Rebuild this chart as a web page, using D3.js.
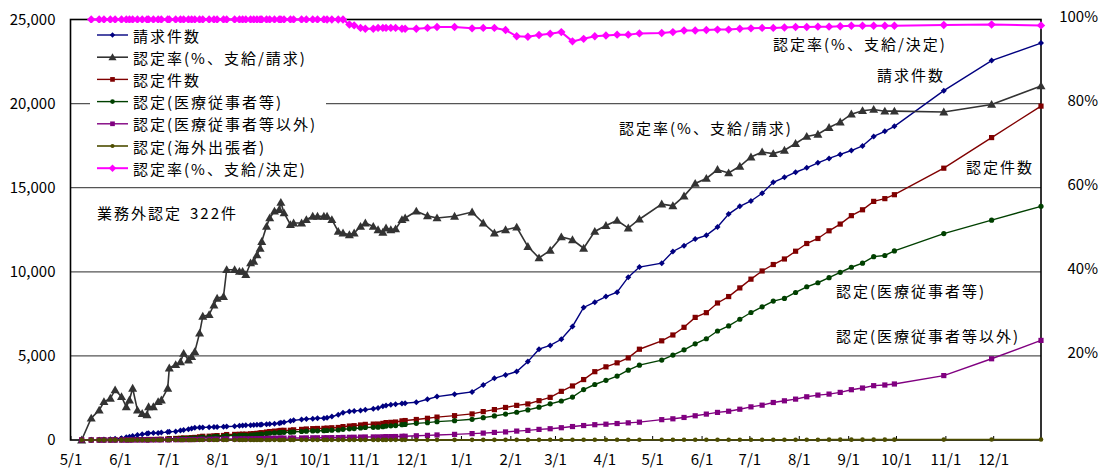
<!DOCTYPE html>
<html>
<head>
<meta charset="utf-8">
<script src="https://cdn.jsdelivr.net/npm/d3@7"></script>
<style>
  body { margin: 0; background: #fff; }
  text { font-family: "Noto Sans CJK JP", sans-serif; fill: #000; }
</style>
</head>
<body>
<div id="chart"></div>
<script>
// dates of each report
const dates = [
  "2020-05-08","2020-05-14","2020-05-19","2020-05-22","2020-05-26","2020-05-29",
  "2020-06-02","2020-06-05","2020-06-07","2020-06-09","2020-06-12","2020-06-15","2020-06-18","2020-06-19","2020-06-22","2020-06-25","2020-06-27",
  "2020-07-01","2020-07-02","2020-07-06","2020-07-09","2020-07-11","2020-07-14","2020-07-16","2020-07-18","2020-07-21","2020-07-23","2020-07-27","2020-07-30",
  "2020-08-01","2020-08-05","2020-08-07","2020-08-12","2020-08-15","2020-08-17","2020-08-19","2020-08-22","2020-08-24","2020-08-26","2020-08-28","2020-08-29",
  "2020-09-01","2020-09-03","2020-09-06","2020-09-09","2020-09-10","2020-09-12","2020-09-16","2020-09-18","2020-09-23","2020-09-26","2020-09-30",
  "2020-10-03","2020-10-07","2020-10-09","2020-10-12","2020-10-16","2020-10-19","2020-10-23","2020-10-26","2020-10-30",
  "2020-11-02","2020-11-07","2020-11-10","2020-11-13","2020-11-15","2020-11-18","2020-11-21","2020-11-25","2020-11-27",
  "2020-12-04","2020-12-11","2020-12-17","2020-12-28",
  "2021-01-08","2021-01-15","2021-01-22","2021-01-29",
  "2021-02-05","2021-02-12","2021-02-19","2021-02-26",
  "2021-03-05","2021-03-12","2021-03-19","2021-03-26",
  "2021-04-02","2021-04-09","2021-04-16","2021-04-23",
  "2021-05-07","2021-05-14","2021-05-21","2021-05-28",
  "2021-06-04","2021-06-11","2021-06-18","2021-06-25",
  "2021-07-02","2021-07-09","2021-07-16","2021-07-23","2021-07-30",
  "2021-08-06","2021-08-13","2021-08-20","2021-08-27",
  "2021-09-03","2021-09-10","2021-09-17","2021-09-24","2021-09-30",
  "2021-10-31","2021-11-30","2021-12-31"
];

// 請求件数
const seikyu = [
  0,10,20,30,50,70,
  110,160,200,240,290,340,380,400,410,420,440,
  470,490,510,560,600,640,690,730,740,750,760,770,
  780,790,800,820,850,860,870,880,890,900,910,920,
  930,950,970,1000,1020,1050,1130,1170,1220,1250,1270,
  1290,1300,1330,1390,1500,1620,1700,1730,1760,
  1800,1860,1900,2000,2050,2100,2130,2170,2190,
  2240,2420,2580,2720,
  2860,3270,3670,3870,
  4070,4660,5400,5620,
  5990,6750,7880,8190,
  8530,8790,9680,10280,
  10510,11210,11550,11950,
  12170,12670,13430,13890,
  14210,14670,15320,15620,15920,
  16180,16480,16740,16980,
  17210,17480,18050,18350,18650,
  20770,22560,23600
];

// 認定率(%、支給/請求)
const rateSeikyu = [
  0,5.2,7.1,9.1,9.9,11.9,
  10.3,7.9,9.5,12.3,7.1,6.3,6.0,7.9,7.9,9.1,9.5,
  12.3,17.1,17.9,18.6,20.6,19.0,19.8,21.0,25.4,29.4,29.8,32.1,
  33.7,34.1,40.5,40.5,40.1,40.1,39.3,42.1,42.5,44.0,45.6,47.2,
  50.8,52.8,54.4,54.8,56.5,54.0,51.2,51.6,51.6,52.4,53.2,
  53.2,53.2,53.2,52.4,49.6,49.2,48.8,49.2,50.8,
  51.6,50.8,50.0,49.4,50.4,50.0,50.2,52.4,52.8,
  54.4,53.3,52.8,53.2,
  54.2,51.6,49.2,50.0,
  50.6,46.0,43.3,45.1,
  48.3,47.6,45.6,49.6,
  51.0,52.2,50.4,52.5,
  56.1,55.7,58.0,61.0,
  62.2,64.3,63.5,65.1,
  67.3,68.5,68.1,68.9,70.5,
  72.2,72.7,74.3,75.6,
  77.5,78.3,78.6,78.2,78.2,
  78.0,79.8,84.2
];

// 認定件数
const nintei = [
  0,0,1,3,5,8,
  11,13,19,25,25,25,25,32,32,38,42,
  58,84,91,104,122,124,137,153,188,221,226,247,
  263,269,324,332,341,345,346,370,378,396,415,434,
  472,502,528,548,570,575,579,604,630,655,676,
  686,692,708,728,744,797,830,852,893,
  929,945,950,988,1033,1050,1069,1137,1157,
  1219,1290,1362,1447,
  1550,1687,1806,1935,
  2059,2144,2338,2535,
  2893,3213,3593,4062,
  4350,4588,4880,5397,
  5896,6244,6700,7290,
  7570,8146,8528,9042,
  9563,10049,10433,10762,11224,
  11682,11981,12438,12837,
  13338,13687,14187,14350,14584,
  16160,17980,19850
];

// 認定(医療従事者等)
const iryo = [
  0,0,1,2,4,6,
  9,10,15,20,20,20,20,25,25,30,33,
  46,67,72,83,97,99,109,122,150,176,180,197,
  210,215,259,265,272,276,277,295,302,316,332,347,
  377,401,422,438,455,459,463,483,504,524,540,
  548,553,566,582,595,637,664,681,714,
  743,756,760,790,826,840,855,909,925,
  990,1030,1090,1150,
  1230,1330,1430,1540,
  1650,1790,1950,2150,
  2320,2550,3000,3300,
  3550,3800,4150,4450,
  4750,5050,5360,5720,
  6020,6480,6780,7180,
  7580,7920,8260,8420,8770,
  9110,9350,9650,9970,
  10270,10510,10900,10970,11240,
  12270,13070,13890
];

// 認定(医療従事者等以外)
const iryoIgai = [
  0,0,0,1,1,2,
  2,3,4,5,5,5,5,7,7,8,9,
  11,16,18,20,24,24,27,30,37,43,44,48,
  51,52,63,65,67,67,67,72,73,77,80,84,
  92,98,103,107,112,113,114,116,121,126,131,
  133,134,137,141,143,154,160,165,173,
  180,183,184,192,201,202,206,220,224,
  250,275,300,335,
  380,410,450,480,
  530,570,630,670,
  730,800,860,910,
  940,980,1020,1060,
  1210,1260,1340,1440,
  1540,1640,1710,1830,
  1970,2070,2230,2330,2430,
  2570,2670,2730,2830,
  2990,3090,3230,3270,3330,
  3830,4830,5920
];

// 認定(海外出張者)
const kaigai = [
  0,0,0,0,0,0,
  0,0,0,0,0,0,0,0,0,0,0,
  1,1,1,1,1,1,1,1,1,2,2,2,
  2,2,2,2,2,2,2,3,3,3,3,3,
  3,3,3,3,3,5,5,5,5,5,5,
  5,5,5,5,6,6,6,6,6,
  6,6,6,6,6,8,8,8,8,
  8,8,8,10,
  10,10,10,10,
  10,10,10,12,
  12,12,12,12,
  12,12,12,15,
  15,15,15,15,
  15,15,18,18,
  18,18,18,18,18,
  18,18,20,20,
  20,20,20,20,20,
  25,28,32
];

// 認定率(%、支給/決定)
const rateKettei = [
  null,100,100,100,100,100,
  100,100,100,100,100,100,100,100,100,100,100,
  100,100,100,100,100,100,100,100,100,100,100,100,
  100,100,100,100,100,100,100,100,100,100,100,100,
  100,100,100,100,100,100,100,100,100,100,100,
  100,100,100,100,100,100,98.8,98.6,98.0,
  97.8,97.8,98.0,98.0,98.0,98.0,98.0,97.8,97.8,
  97.8,98.0,98.2,98.2,
  97.9,98.0,98.0,97.5,
  96.0,95.9,96.3,96.6,
  97.0,94.8,95.4,96.0,
  96.2,96.4,96.4,96.7,
  96.8,97.0,97.4,97.4,
  97.5,97.6,97.6,97.8,
  97.9,98.0,98.0,98.1,98.2,
  98.2,98.3,98.3,98.4,
  98.5,98.5,98.5,98.5,98.5,
  98.7,98.8,98.6
];

const leftTicks = [0, 5000, 10000, 15000, 20000, 25000];
const rightTicks = [20, 40, 60, 80, 100];

const width = 1100, height = 471;
const plot = { left: 70.5, right: 1041, top: 19.5, bottom: 440 };
const parseDate = d3.timeParse("%Y-%m-%d");
const dateObjs = dates.map(parseDate);

const svg = d3.select("#chart").append("svg")
  .attr("width", width)
  .attr("height", height);

const x = d3.scaleTime()
  .domain([parseDate("2020-05-01"), parseDate("2021-12-31")])
  .range([plot.left, plot.right]);
const y = d3.scaleLinear().domain([0, 25000]).range([plot.bottom, plot.top]);
const yPct = d3.scaleLinear().domain([0, 100]).range([plot.bottom, plot.top]);

// gridlines
svg.append("g").selectAll("line")
  .data(leftTicks.filter(d => d > 0 && d < 25000))
  .enter().append("line")
  .attr("x1", plot.left).attr("x2", plot.right)
  .attr("y1", d => y(d)).attr("y2", d => y(d))
  .attr("stroke", "#555").attr("stroke-width", 1.2);

// left axis
const leftAxis = svg.append("g")
  .attr("transform", `translate(${plot.left},0)`)
  .call(d3.axisLeft(y).tickValues(leftTicks).tickSize(0).tickPadding(15).tickFormat(d3.format(",")));
leftAxis.select(".domain").remove();
leftAxis.selectAll("text").style("font-size", "15px");

// right axis
const rightAxis = svg.append("g")
  .attr("transform", `translate(${plot.right},0)`)
  .call(d3.axisRight(yPct).tickValues(rightTicks).tickSize(0).tickPadding(57).tickFormat(d => d + "%"));
rightAxis.select(".domain").remove();
rightAxis.selectAll("text").style("font-size", "15px").attr("text-anchor", "end").attr("dy", "0.1em");

// bottom axis
const months = d3.timeMonth.range(parseDate("2020-05-01"), parseDate("2021-12-02"));
const bottomAxis = svg.append("g")
  .attr("transform", `translate(0,${plot.bottom})`)
  .call(d3.axisBottom(x).tickValues(months).tickSize(-4).tickPadding(14).tickFormat(d3.timeFormat("%-m/%-d")));
bottomAxis.select(".domain").remove();
bottomAxis.selectAll("line").attr("stroke", "#000");
bottomAxis.selectAll("text").style("font-size", "15px");

// plot frame
svg.append("rect")
  .attr("x", plot.left).attr("y", plot.top)
  .attr("width", plot.right - plot.left).attr("height", plot.bottom - plot.top)
  .attr("fill", "none").attr("stroke", "#000").attr("stroke-width", 1.6);

function markerPath(shape, r) {
  if (shape === "diamond") return `M0,${-r}L${r},0L0,${r}L${-r},0Z`;
  if (shape === "triangle") return `M0,${-r}L${r},${r * 0.75}L${-r},${r * 0.75}Z`;
  if (shape === "square") return `M${-r},${-r}H${r}V${r}H${-r}Z`;
  return d3.arc()({ innerRadius: 0, outerRadius: r, startAngle: 0, endAngle: 2 * Math.PI });
}

const series = [
  { name: "請求件数", values: seikyu, scale: y, color: "#000080", shape: "diamond", r: 3, w: 1.4 },
  { name: "認定率(%、支給/請求)", values: rateSeikyu, scale: yPct, color: "#333333", shape: "triangle", r: 4.5, w: 1.6 },
  { name: "認定件数", values: nintei, scale: y, color: "#800000", shape: "square", r: 2.6, w: 1.4 },
  { name: "認定(医療従事者等)", values: iryo, scale: y, color: "#004000", shape: "circle", r: 2.6, w: 1.4 },
  { name: "認定(医療従事者等以外)", values: iryoIgai, scale: y, color: "#800080", shape: "square", r: 2.6, w: 1.4 },
  { name: "認定(海外出張者)", values: kaigai, scale: y, color: "#4d4d00", shape: "circle", r: 2.3, w: 1.6 },
  { name: "認定率(%、支給/決定)", values: rateKettei, scale: yPct, color: "#ff00ff", shape: "diamond", r: 4.2, w: 2 }
];

series.forEach(s => {
  const pts = dateObjs.map((d, i) => ({ date: d, value: s.values[i] })).filter(p => p.value != null);
  const g = svg.append("g");
  g.append("path")
    .datum(pts)
    .attr("fill", "none")
    .attr("stroke", s.color)
    .attr("stroke-width", s.w)
    .attr("d", d3.line().x(p => x(p.date)).y(p => s.scale(p.value)));
  g.selectAll("path.m")
    .data(pts)
    .enter().append("path")
    .attr("class", "m")
    .attr("transform", p => `translate(${x(p.date)},${s.scale(p.value)})`)
    .attr("d", markerPath(s.shape, s.r))
    .attr("fill", s.color);
});

// legend
const legend = svg.append("g");
legend.append("rect")
  .attr("x", 90).attr("y", 23).attr("width", 236).attr("height", 157)
  .attr("fill", "#fff");
series.forEach((s, i) => {
  const ly = 35 + i * 22.2;
  legend.append("line")
    .attr("x1", 97).attr("x2", 128).attr("y1", ly).attr("y2", ly)
    .attr("stroke", s.color).attr("stroke-width", s.w);
  legend.append("path")
    .attr("transform", `translate(112.5,${ly})`)
    .attr("d", markerPath(s.shape, s.r * 0.9))
    .attr("fill", s.color);
  legend.append("text")
    .attr("x", 133).attr("y", ly)
    .attr("dominant-baseline", "central")
    .style("font-size", "15px")
    .style("letter-spacing", "2px")
    .text(s.name);
});

// annotations
const notes = [
  { text: "認定率(%、支給/決定)", x: 773, y: 43 },
  { text: "請求件数", x: 877, y: 74 },
  { text: "認定率(%、支給/請求)", x: 619, y: 127 },
  { text: "認定件数", x: 966, y: 166 },
  { text: "認定(医療従事者等)", x: 836, y: 290 },
  { text: "認定(医療従事者等以外)", x: 836, y: 335 }
];
svg.append("g").selectAll("text")
  .data(notes)
  .enter().append("text")
  .attr("x", d => d.x).attr("y", d => d.y)
  .attr("dominant-baseline", "central")
  .style("font-size", "15px")
  .style("letter-spacing", "2px")
  .text(d => d.text);

const gaimu = svg.append("text")
  .attr("x", 97).attr("y", 212)
  .attr("dominant-baseline", "central")
  .style("font-size", "15px")
  .style("letter-spacing", "2px");
gaimu.append("tspan").text("業務外認定");
gaimu.append("tspan").attr("dx", 8).text("322件");
</script>
</body>
</html>
